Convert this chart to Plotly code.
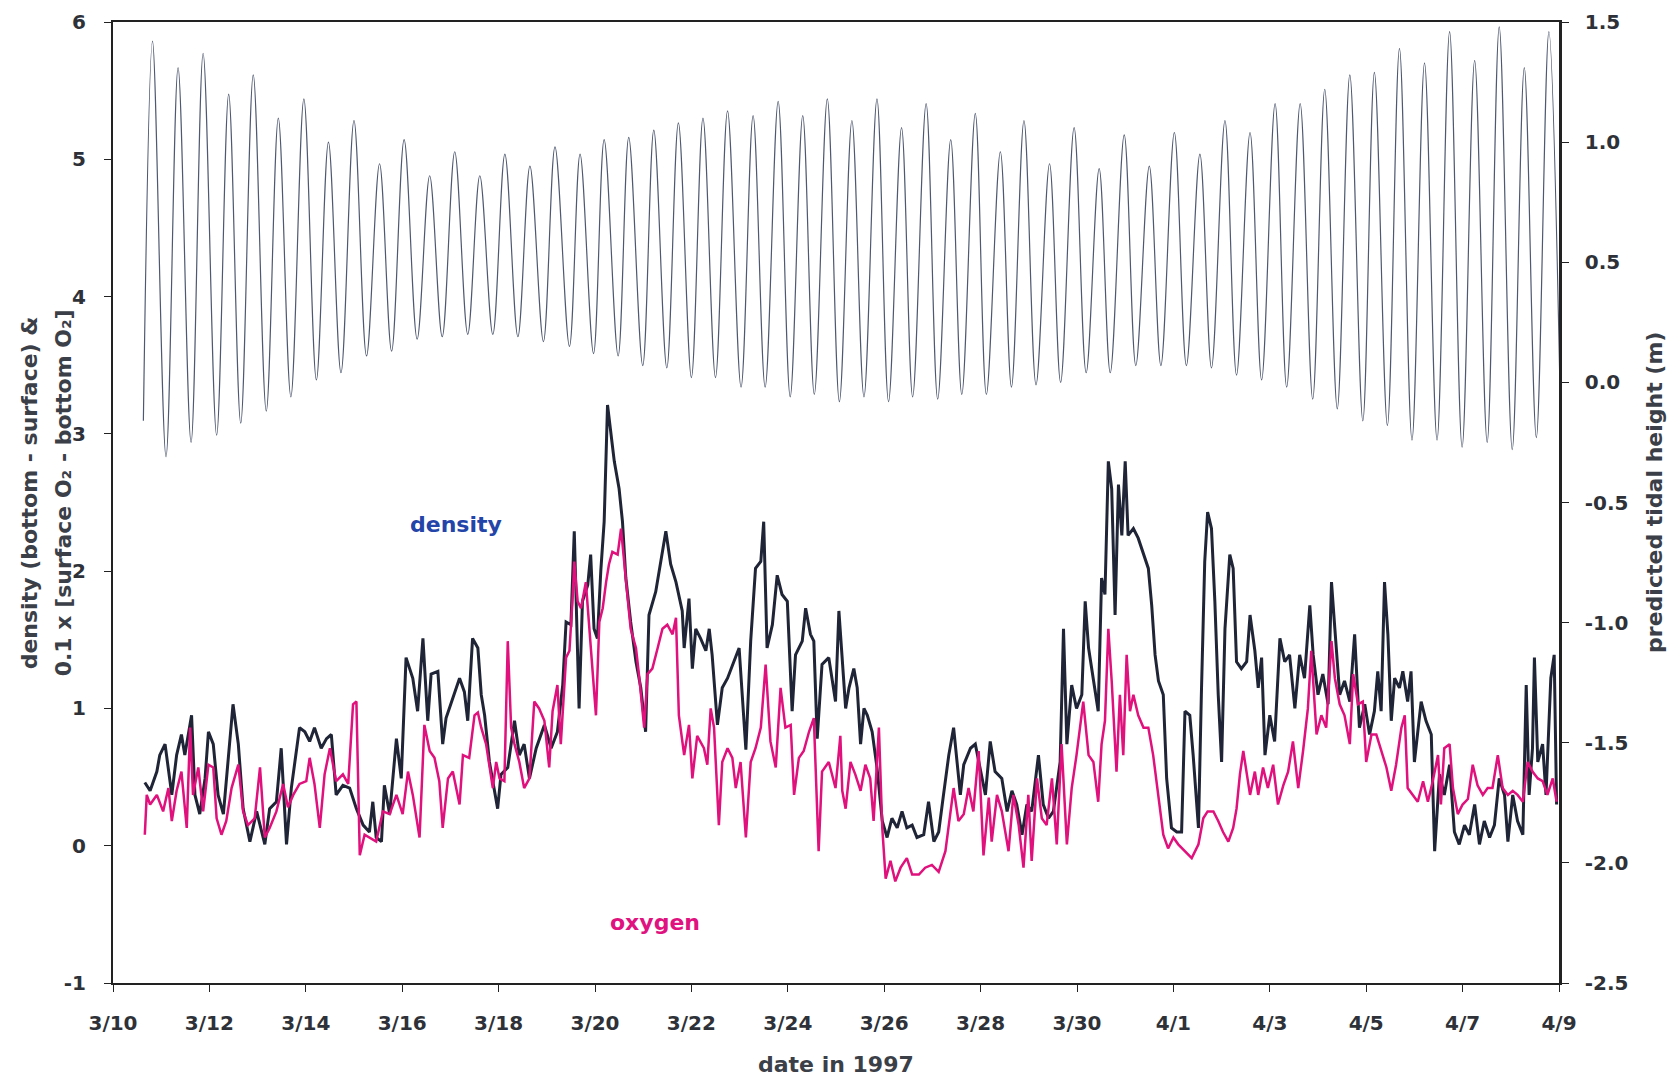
import pandas as pd
import plotly.graph_objects as go

START = pd.Timestamp("1997-03-10")

# density (bottom - surface): time in days after 3/10 00:00, value
density_day = [
    0.66, 0.77, 0.91, 0.97, 1.08, 1.15, 1.22, 1.32, 1.42, 1.49, 1.63, 1.70, 1.80, 1.91, 1.98, 2.08,
    2.18, 2.29, 2.39, 2.49, 2.60, 2.70, 2.84, 2.98, 3.15, 3.25, 3.39, 3.49, 3.60, 3.70, 3.87, 3.98,
    4.08, 4.18, 4.32, 4.43, 4.53, 4.63, 4.77, 4.91, 5.05, 5.19, 5.32, 5.39, 5.46, 5.57, 5.63, 5.74,
    5.88, 5.98, 6.08, 6.22, 6.32, 6.43, 6.53, 6.60, 6.74, 6.84, 6.91, 7.08, 7.19, 7.29, 7.36, 7.46,
    7.57, 7.64, 7.71, 7.81, 7.91, 7.98, 8.05, 8.19, 8.33, 8.43, 8.53, 8.64, 8.78, 8.95, 9.09, 9.22,
    9.33, 9.40, 9.50, 9.57, 9.67, 9.74, 9.85, 9.91, 9.98, 10.05, 10.12, 10.19, 10.26, 10.33, 10.40,
    10.50, 10.57, 10.64, 10.74, 10.85, 10.95, 11.05, 11.12, 11.26, 11.36, 11.47, 11.57, 11.68, 11.81,
    11.85, 11.95, 12.02, 12.09, 12.19, 12.30, 12.37, 12.43, 12.54, 12.64, 12.75, 12.88, 12.99, 13.13,
    13.23, 13.33, 13.44, 13.50, 13.57, 13.68, 13.78, 13.88, 13.99, 14.09, 14.16, 14.30, 14.37, 14.47,
    14.54, 14.61, 14.71, 14.85, 14.99, 15.06, 15.13, 15.20, 15.27, 15.37, 15.44, 15.51, 15.58, 15.65,
    15.75, 15.85, 15.96, 16.06, 16.16, 16.27, 16.37, 16.47, 16.58, 16.68, 16.82, 16.92, 17.03, 17.13,
    17.23, 17.34, 17.44, 17.51, 17.58, 17.65, 17.79, 17.89, 17.99, 18.10, 18.20, 18.30, 18.44, 18.55,
    18.65, 18.75, 18.86, 18.96, 19.06, 19.20, 19.30, 19.41, 19.51, 19.65, 19.72, 19.79, 19.89, 19.99,
    20.10, 20.17, 20.24, 20.34, 20.44, 20.51, 20.58, 20.65, 20.72, 20.79, 20.86, 20.93, 21.00, 21.06,
    21.17, 21.27, 21.38, 21.48, 21.55, 21.62, 21.69, 21.79, 21.86, 21.96, 22.07, 22.17, 22.24, 22.34,
    22.41, 22.52, 22.58, 22.65, 22.71, 22.79, 22.86, 22.93, 23.00, 23.07, 23.17, 23.24, 23.31, 23.41,
    23.52, 23.59, 23.69, 23.76, 23.83, 23.90, 24.00, 24.10, 24.21, 24.31, 24.41, 24.52, 24.62, 24.72,
    24.83, 24.90, 25.00, 25.10, 25.21, 25.28, 25.35, 25.45, 25.55, 25.66, 25.76, 25.86, 25.97, 26.07,
    26.17, 26.24, 26.31, 26.38, 26.45, 26.52, 26.59, 26.69, 26.76, 26.86, 26.93, 27.00, 27.14, 27.24,
    27.35, 27.42, 27.52, 27.62, 27.73, 27.83, 27.93, 28.04, 28.14, 28.25, 28.35, 28.45, 28.56, 28.66,
    28.76, 28.87, 28.94, 29.04, 29.14, 29.25, 29.32, 29.38, 29.45, 29.49, 29.56, 29.66, 29.73, 29.83,
    29.90, 29.95,
]
density_val = [
    0.46, 0.40, 0.54, 0.66, 0.74, 0.57, 0.37, 0.66, 0.81, 0.66, 0.95, 0.37, 0.23, 0.49, 0.83, 0.74,
    0.37, 0.23, 0.61, 1.03, 0.74, 0.27, 0.03, 0.25, 0.01, 0.27, 0.32, 0.71, 0.01, 0.42, 0.86, 0.83,
    0.76, 0.86, 0.71, 0.78, 0.81, 0.37, 0.44, 0.42, 0.27, 0.15, 0.10, 0.32, 0.06, 0.03, 0.44, 0.23,
    0.78, 0.49, 1.37, 1.22, 0.98, 1.51, 0.91, 1.25, 1.27, 0.74, 0.93, 1.10, 1.22, 1.12, 0.91, 1.51,
    1.44, 1.10, 0.95, 0.61, 0.42, 0.27, 0.52, 0.57, 0.91, 0.66, 0.74, 0.49, 0.71, 0.88, 0.71, 0.83,
    1.17, 1.63, 1.61, 2.29, 1.00, 1.78, 1.90, 2.12, 1.58, 1.51, 2.00, 2.36, 3.21, 2.99, 2.80,
    2.60, 2.36, 1.95, 1.63, 1.34, 1.15, 0.83, 1.68, 1.85, 2.05, 2.29, 2.05, 1.92, 1.71,
    1.44, 1.80, 1.29, 1.58, 1.51, 1.42, 1.58, 1.39, 0.88, 1.15, 1.22, 1.34, 1.44, 0.70,
    1.49, 2.02, 2.07, 2.36, 1.44, 1.61, 1.97, 1.83, 1.78, 0.98, 1.39, 1.49, 1.73, 1.54,
    1.49, 0.78, 1.32, 1.37, 1.05, 1.71, 1.34, 1.00, 1.15, 1.29, 1.15, 0.74, 1.00, 0.95,
    0.83, 0.57, 0.18, 0.06, 0.20, 0.13, 0.25, 0.13, 0.15, 0.06, 0.08, 0.32, 0.03, 0.10,
    0.37, 0.66, 0.86, 0.61, 0.37, 0.59, 0.71, 0.74, 0.57, 0.37, 0.76, 0.54, 0.49, 0.25,
    0.40, 0.30, 0.08, 0.30, 0.25, 0.66, 0.30, 0.20, 0.25, 0.61, 1.58, 0.74, 1.17, 1.00,
    1.10, 1.78, 1.44, 1.22, 0.98, 1.95, 1.83, 2.80, 2.60, 1.68, 2.63, 2.26, 2.80, 2.26,
    2.31, 2.24, 2.12, 2.02, 1.75, 1.39, 1.20, 1.10, 0.49, 0.13, 0.10, 0.10, 0.98, 0.95,
    0.66, 0.13, 1.10, 2.07, 2.43, 2.31, 1.78, 1.10, 0.61, 1.58, 2.12, 2.02, 1.34, 1.29,
    1.34, 1.68, 1.42, 1.15, 1.37, 0.66, 0.95, 0.76, 1.51, 1.34, 1.39, 1.00, 1.39, 1.22,
    1.75, 1.39, 1.10, 1.25, 1.03, 1.92, 1.58, 1.10, 1.20, 1.05, 1.54, 0.86, 1.03, 0.81,
    0.98, 1.27, 0.98, 1.92, 1.54, 0.91, 1.22, 1.15, 1.27, 1.05, 1.27, 0.61, 1.05, 0.91,
    0.81, -0.04, 0.52, 0.37, 0.59, 0.10, 0.01, 0.15, 0.08, 0.30, 0.01, 0.18, 0.06, 0.15,
    0.49, 0.37, 0.03, 0.37, 0.18, 0.08, 1.17, 0.37, 0.71, 1.37, 0.61, 0.74, 0.37, 1.22,
    1.39, 0.30,
]

# 0.1 x (surface O2 - bottom O2): time in days after 3/10 00:00, value
oxygen_day = [
    0.66, 0.70, 0.77, 0.91, 1.04, 1.15, 1.22, 1.32, 1.42, 1.53, 1.60, 1.66, 1.77, 1.87, 1.98, 2.08,
    2.15, 2.25, 2.35, 2.46, 2.60, 2.70, 2.80, 2.94, 3.05, 3.15, 3.25, 3.39, 3.53, 3.63, 3.74, 3.87,
    4.01, 4.08, 4.18, 4.29, 4.39, 4.50, 4.63, 4.77, 4.88, 4.98, 5.05, 5.12, 5.22, 5.32, 5.46, 5.60,
    5.74, 5.88, 6.01, 6.12, 6.22, 6.36, 6.46, 6.57, 6.67, 6.77, 6.84, 6.95, 7.05, 7.19, 7.26, 7.39,
    7.50, 7.57, 7.64, 7.74, 7.81, 7.88, 7.95, 8.02, 8.12, 8.19, 8.26, 8.33, 8.43, 8.53, 8.64, 8.74,
    8.84, 8.95, 9.05, 9.12, 9.22, 9.29, 9.40, 9.47, 9.54, 9.57, 9.64, 9.71, 9.81, 9.88, 9.95, 10.02,
    10.09, 10.16, 10.23, 10.29, 10.36, 10.47, 10.54, 10.61, 10.67, 10.74, 10.85, 10.92, 11.02, 11.09,
    11.19, 11.30, 11.40, 11.50, 11.61, 11.68, 11.74, 11.85, 11.95, 12.02, 12.12, 12.26, 12.33, 12.40,
    12.47, 12.57, 12.64, 12.75, 12.85, 12.92, 13.02, 13.13, 13.23, 13.33, 13.44, 13.54, 13.64, 13.75,
    13.85, 13.95, 14.06, 14.13, 14.23, 14.33, 14.44, 14.54, 14.64, 14.71, 14.85, 14.99, 15.09, 15.13,
    15.20, 15.30, 15.40, 15.51, 15.61, 15.71, 15.78, 15.89, 15.96, 16.03, 16.13, 16.23, 16.34, 16.47,
    16.58, 16.72, 16.85, 16.99, 17.13, 17.27, 17.37, 17.44, 17.54, 17.65, 17.75, 17.85, 17.96, 18.06,
    18.17, 18.23, 18.34, 18.44, 18.58, 18.68, 18.79, 18.89, 18.99, 19.06, 19.17, 19.27, 19.37, 19.48,
    19.58, 19.68, 19.79, 19.89, 19.99, 20.13, 20.24, 20.34, 20.44, 20.51, 20.58, 20.65, 20.72, 20.82,
    20.89, 20.96, 21.03, 21.10, 21.17, 21.27, 21.38, 21.48, 21.58, 21.69, 21.79, 21.89, 22.00, 22.10,
    22.24, 22.38, 22.52, 22.62, 22.71, 22.83, 22.93, 23.03, 23.14, 23.24, 23.31, 23.38, 23.45, 23.52,
    23.59, 23.69, 23.76, 23.86, 23.96, 24.07, 24.17, 24.28, 24.38, 24.48, 24.59, 24.69, 24.79, 24.86,
    24.97, 25.07, 25.17, 25.28, 25.35, 25.45, 25.55, 25.66, 25.73, 25.83, 25.93, 26.00, 26.11, 26.21,
    26.31, 26.42, 26.52, 26.62, 26.73, 26.80, 26.86, 26.97, 27.07, 27.18, 27.28, 27.38, 27.49, 27.55,
    27.62, 27.73, 27.80, 27.90, 28.00, 28.11, 28.21, 28.31, 28.42, 28.52, 28.62, 28.73, 28.83, 28.94,
    29.04, 29.14, 29.25, 29.35, 29.45, 29.56, 29.66, 29.76, 29.87, 29.95,
]
oxygen_val = [
    0.08, 0.37, 0.30, 0.37, 0.25, 0.42, 0.18, 0.40, 0.54, 0.13, 0.86, 0.37, 0.57, 0.25, 0.59, 0.57,
    0.20, 0.08, 0.18, 0.42, 0.59, 0.25, 0.15, 0.20, 0.57, 0.06, 0.13, 0.25, 0.45, 0.28, 0.37, 0.45,
    0.47, 0.64, 0.45, 0.13, 0.52, 0.71, 0.47, 0.52, 0.45, 1.03, 1.05, -0.07, 0.08, 0.06, 0.03, 0.25,
    0.23, 0.37, 0.23, 0.54, 0.37, 0.06, 0.88, 0.69, 0.64, 0.47, 0.13, 0.49, 0.54, 0.30, 0.66, 0.64,
    0.95, 0.97, 0.86, 0.74, 0.57, 0.42, 0.61, 0.49, 0.47, 1.49, 0.86, 0.74, 0.61, 0.42, 0.49, 1.05,
    1.00, 0.91, 0.57, 0.98, 1.17, 0.74, 1.37, 1.42, 1.83, 2.07, 1.78, 1.73, 1.92, 1.58, 1.29, 0.95,
    1.63, 1.73, 1.92, 2.05, 2.14, 2.12, 2.31, 2.02, 1.83, 1.58, 1.44, 1.22, 0.86, 1.25,
    1.29, 1.44, 1.58, 1.61, 1.54, 1.66, 0.95, 0.66, 0.88, 0.49, 0.80, 0.71, 0.59, 1.00,
    0.86, 0.15, 0.61, 0.71, 0.64, 0.42, 0.61, 0.06, 0.61, 0.71, 0.86, 1.32, 0.76, 0.57,
    1.15, 0.86, 0.88, 0.37, 0.64, 0.69, 0.83, 0.93, -0.04, 0.54, 0.61, 0.42, 0.80, 0.40,
    0.27, 0.61, 0.52, 0.40, 0.59, 0.49, 0.18, 0.86, 0.13, -0.24, -0.11, -0.26, -0.16, -0.09,
    -0.21, -0.21, -0.16, -0.14, -0.19, -0.04, 0.25, 0.42, 0.18, 0.23, 0.42, 0.25, 0.69, -0.07,
    0.35, 0.03, 0.37, 0.25, -0.04, 0.37, 0.15, -0.16, 0.37, -0.11, 0.49, 0.20, 0.15, 0.49,
    0.01, 0.74, 0.01, 0.42, 0.66, 1.05, 0.66, 0.61, 0.32, 0.74, 0.91, 1.58, 1.20, 0.54,
    1.10, 0.66, 1.39, 0.98, 1.10, 0.95, 0.86, 0.86, 0.66, 0.37, 0.08, -0.02, 0.06, 0.01,
    -0.04, -0.09, 0.01, 0.20, 0.25, 0.25, 0.18, 0.10, 0.03, 0.13, 0.27, 0.52, 0.69, 0.52,
    0.37, 0.54, 0.37, 0.57, 0.42, 0.59, 0.30, 0.44, 0.54, 0.76, 0.42, 0.69, 1.00, 1.42,
    0.81, 0.95, 0.86, 1.49, 1.22, 1.03, 0.95, 0.74, 1.25, 1.03, 1.05, 0.61, 0.81, 0.81,
    0.69, 0.57, 0.40, 0.59, 0.86, 0.95, 0.42, 0.37, 0.32, 0.47, 0.32, 0.47, 0.66, 0.30,
    0.71, 0.74, 0.42, 0.23, 0.30, 0.34, 0.59, 0.44, 0.37, 0.42, 0.42, 0.66, 0.42, 0.37,
    0.40, 0.37, 0.32, 0.61, 0.54, 0.49, 0.47, 0.37, 0.49, 0.32,
]

# predicted tide: successive high and low waters (days after 3/10 00:00, metres)
tide_day = [
    0.63, 0.82, 1.10, 1.35, 1.62, 1.87, 2.15, 2.40, 2.65, 2.91, 3.18, 3.43, 3.69, 3.96, 4.22, 4.47,
    4.73, 5.00, 5.26, 5.53, 5.78, 6.04, 6.31, 6.57, 6.83, 7.09, 7.36, 7.61, 7.88, 8.13, 8.40, 8.65,
    8.93, 9.17, 9.47, 9.69, 9.97, 10.19, 10.48, 10.70, 10.99, 11.22, 11.49, 11.73, 12.00, 12.24,
    12.50, 12.75, 13.03, 13.28, 13.53, 13.80, 14.05, 14.31, 14.55, 14.82, 15.07, 15.33, 15.58, 15.85,
    16.09, 16.36, 16.59, 16.87, 17.11, 17.38, 17.61, 17.89, 18.12, 18.41, 18.64, 18.90, 19.15, 19.43,
    19.66, 19.94, 20.19, 20.46, 20.69, 20.98, 21.22, 21.50, 21.74, 22.02, 22.27, 22.55, 22.79, 23.07,
    23.31, 23.59, 23.83, 24.11, 24.35, 24.63, 24.89, 25.14, 25.40, 25.66, 25.93, 26.17, 26.44, 26.69,
    26.95, 27.21, 27.47, 27.73, 27.99, 28.25, 28.51, 28.76, 29.03, 29.28, 29.53, 29.79, 30.04,
]
tide_m = [
    -0.16, 1.42, -0.31, 1.31, -0.25, 1.37, -0.22, 1.20, -0.17, 1.28, -0.12, 1.10, -0.06, 1.18, 0.01, 1.00,
    0.04, 1.09, 0.11, 0.91, 0.13, 1.01, 0.18, 0.86, 0.19, 0.96, 0.20, 0.86, 0.20, 0.95, 0.19, 0.90,
    0.17, 0.98, 0.15, 0.95, 0.12, 1.01, 0.11, 1.02, 0.07, 1.05, 0.06, 1.08, 0.02, 1.10,
    0.02, 1.13, -0.02, 1.11, -0.02, 1.17, -0.06, 1.11, -0.05, 1.18, -0.08, 1.09, -0.06, 1.18,
    -0.08, 1.06, -0.06, 1.16, -0.07, 1.01, -0.05, 1.12, -0.05, 0.96, -0.02, 1.09, -0.01, 0.91,
    0.00, 1.06, 0.04, 0.89, 0.04, 1.03, 0.07, 0.90, 0.07, 1.04, 0.07, 0.95, 0.06, 1.09,
    0.03, 1.04, 0.01, 1.16, -0.02, 1.16, -0.07, 1.22, -0.11, 1.28, -0.16, 1.29, -0.18, 1.39,
    -0.24, 1.33, -0.24, 1.46, -0.27, 1.34, -0.25, 1.48, -0.28, 1.31, -0.23, 1.46, -0.23,
]

# axis ticks
left_ticks = [-1, 0, 1, 2, 3, 4, 5, 6]
left_tick_text = ["-1", "0", "1", "2", "3", "4", "5", "6"]
tide_ticks = [-2.5, -2.0, -1.5, -1.0, -0.5, 0.0, 0.5, 1.0, 1.5]
tide_tick_text = ["-2.5", "-2.0", "-1.5", "-1.0", "-0.5", "0.0", "0.5", "1.0", "1.5"]


def to_dates(days):
    return START + pd.to_timedelta(days, unit="D")


FONT = "DejaVu Sans"
AXIS_COLOR = "#222222"
TEXT_COLOR = "#2e3238"

fig = go.Figure()

fig.add_trace(go.Scatter(
    x=to_dates(density_day), y=density_val, mode="lines",
    line=dict(color="#1f2536", width=3.0), name="density", showlegend=False,
))
fig.add_trace(go.Scatter(
    x=to_dates(oxygen_day), y=oxygen_val, mode="lines",
    line=dict(color="#e0107c", width=2.5), name="oxygen", showlegend=False,
))
fig.add_trace(go.Scatter(
    x=to_dates(tide_day), y=tide_m, mode="lines", yaxis="y2",
    line=dict(color="#4e5870", width=1.2, shape="spline", smoothing=1.0),
    name="tide", showlegend=False,
))

tick_font = dict(family=FONT, size=20, color=TEXT_COLOR, weight="bold")
title_font = dict(family=FONT, size=22, color="#3b4048", weight="bold")

fig.update_layout(
    width=1672, height=1082, autosize=False,
    margin=dict(l=113, r=113, t=22, b=99),
    paper_bgcolor="white", plot_bgcolor="white",
    xaxis=dict(
        type="date",
        range=[START, START + pd.Timedelta(days=30)],
        tick0=START, dtick=2 * 86400000, tickformat="%-m/%-d",
        showgrid=False, zeroline=False,
        showline=True, linecolor=AXIS_COLOR, linewidth=2, mirror=True,
        ticks="outside", ticklen=7, tickcolor=AXIS_COLOR, tickwidth=1,
        tickfont=tick_font, ticklabelstandoff=14, automargin=False,
    ),
    yaxis=dict(
        range=[-1, 6], tickvals=left_ticks, ticktext=left_tick_text,
        showgrid=False, zeroline=False,
        showline=True, linecolor=AXIS_COLOR, linewidth=2,
        ticks="outside", ticklen=7, tickcolor=AXIS_COLOR, tickwidth=1,
        tickfont=tick_font, ticklabelstandoff=14, automargin=False,
    ),
    yaxis2=dict(
        range=[-2.5, 1.5], tickvals=tide_ticks, ticktext=tide_tick_text,
        overlaying="y", side="right", anchor="x",
        showgrid=False, zeroline=False,
        showline=True, linecolor=AXIS_COLOR, linewidth=2.5,
        ticks="outside", ticklen=7, tickcolor=AXIS_COLOR, tickwidth=1,
        tickfont=tick_font, ticklabelstandoff=12, automargin=False,
    ),
    annotations=[
        dict(text="density (bottom - surface) &", xref="paper", yref="paper",
             x=-0.0578, y=0.51, xanchor="center", yanchor="middle",
             textangle=-90, showarrow=False, font=title_font),
        dict(text="0.1 x [surface O₂ - bottom O₂]", xref="paper", yref="paper",
             x=-0.0343, y=0.51, xanchor="center", yanchor="middle",
             textangle=-90, showarrow=False, font=title_font),
        dict(text="predicted tidal height (m)", xref="paper", yref="paper",
             x=1.0664, y=0.51, xanchor="center", yanchor="middle",
             textangle=-90, showarrow=False, font=title_font),
        dict(text="date in 1997", xref="paper", yref="paper",
             x=0.5, y=-0.0843, xanchor="center", yanchor="middle",
             showarrow=False, font=title_font),
        dict(text="density", xref="x", yref="y",
             x=START + pd.Timedelta(days=7.11), y=2.34, xanchor="center", yanchor="middle",
             showarrow=False, font=dict(family=FONT, size=22, color="#2344a8", weight="bold")),
        dict(text="oxygen", xref="x", yref="y",
             x=START + pd.Timedelta(days=11.25), y=-0.56, xanchor="center", yanchor="middle",
             showarrow=False, font=dict(family=FONT, size=22, color="#e0127f", weight="bold")),
    ],
)

fig.write_html("out.html")
